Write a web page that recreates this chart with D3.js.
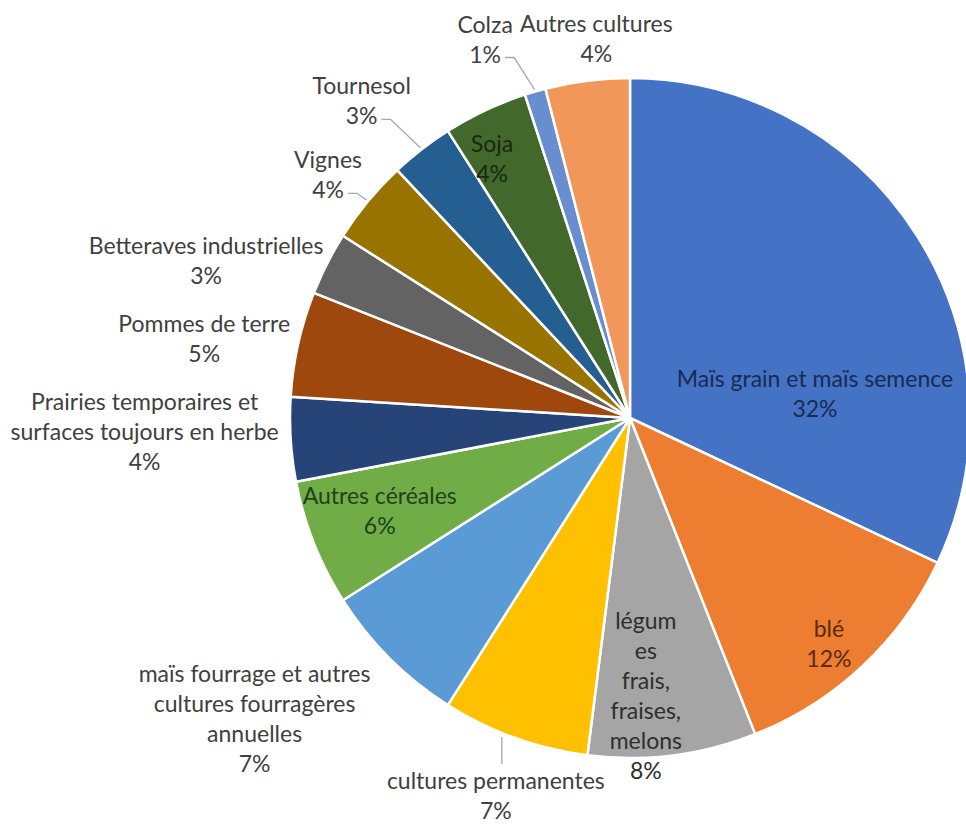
<!DOCTYPE html>
<html>
<head>
<meta charset="utf-8">
<script src="https://cdn.jsdelivr.net/npm/d3@7"></script>
<style>
  html, body { margin: 0; padding: 0; background: #ffffff; }
  svg { display: block; }
  text { font-family: Lato, "Open Sans", sans-serif; }
</style>
</head>
<body>
<svg id="chart" width="966" height="824"></svg>
<script>
// Surface shares by crop (percent), clockwise from 12 o'clock
const categories = [
  "Maïs grain et maïs semence",
  "blé",
  "légumes frais, fraises, melons",
  "cultures permanentes",
  "maïs fourrage et autres cultures fourragères annuelles",
  "Autres céréales",
  "Prairies temporaires et surfaces toujours en herbe",
  "Pommes de terre",
  "Betteraves industrielles",
  "Vignes",
  "Tournesol",
  "Soja",
  "Colza",
  "Autres cultures"
];
const values = [32, 12, 8, 7, 7, 6, 4, 5, 3, 4, 3, 4, 1, 4];
const colors = [
  "#4472C4", "#ED7D31", "#A5A5A5", "#FFC000", "#5B9BD5", "#70AD47", "#264478",
  "#9E480E", "#636363", "#997300", "#255E91", "#43682B", "#698ED0", "#F1975A"
];
// Category names as they wrap inside their label boxes
const labelLines = [
  ["Maïs grain et maïs semence"],
  ["blé"],
  ["légum", "es", "frais,", "fraises,", "melons"],
  ["cultures permanentes"],
  ["maïs fourrage et autres", "cultures fourragères", "annuelles"],
  ["Autres céréales"],
  ["Prairies temporaires et", "surfaces toujours en herbe"],
  ["Pommes de terre"],
  ["Betteraves  industrielles"],
  ["Vignes"],
  ["Tournesol"],
  ["Soja"],
  ["Colza"],
  ["Autres cultures"]
];

// Label layout: radius fraction for the anchor along the slice bisector,
// a nudge from that anchor, text colour and leader-line style
const labelLayout = [
  { k: 0.70, dx: -16,  dy: 103, fill: "#1B2A52", leader: null },
  { k: 0.70, dx: 36,   dy: 52,  fill: "#5A2A0A", leader: null },
  { k: 0.70, dx: -14,  dy: 41,  fill: "#2E2E2E", leader: null },
  { k: 1.00, dx: -19,  dy: 57,  fill: "#404040", leader: "top" },
  { k: 1.00, dx: -135, dy: 60,  fill: "#404040", leader: null },
  { k: 0.70, dx: -29,  dy: 4,   fill: "#22401A", leader: null },
  { k: 1.00, dx: -146, dy: -8,  fill: "#404040", leader: null },
  { k: 1.00, dx: -94,  dy: -6,  fill: "#404040", leader: null },
  { k: 1.00, dx: -121, dy: -4,  fill: "#404040", leader: null },
  { k: 1.00, dx: -40,  dy: -27, fill: "#404040", leader: "side" },
  { k: 1.00, dx: -60,  dy: -49, fill: "#404040", leader: "side" },
  { k: 0.87, dx: -12,  dy: 8,   fill: "#17290E", leader: null },
  { k: 1.00, dx: -50,  dy: -53, fill: "#404040", leader: "side" },
  { k: 1.00, dx: 9,    dy: -43, fill: "#404040", leader: null }
];

const cx = 630, cy = 418, R = 340;
const fontSize = 23, lineH = 30;

const svg = d3.select("#chart");
svg.append("rect").attr("width", 966).attr("height", 824).attr("fill", "#ffffff");

const data = values.map((v, i) => ({ name: categories[i], value: v, i }));

const pie = d3.pie().value(d => d.value).sort(null);
const arcs = pie(data);
const arc = d3.arc().innerRadius(0).outerRadius(R);

const g = svg.append("g").attr("transform", `translate(${cx},${cy})`);

g.selectAll("path.slice")
  .data(arcs)
  .join("path")
  .attr("class", "slice")
  .attr("d", arc)
  .attr("fill", d => colors[d.data.i])
  .attr("stroke", "#ffffff")
  .attr("stroke-width", 2.5)
  .attr("stroke-linejoin", "round");

// Point on the bisector of a slice at radius r (relative to the pie centre)
function polar(a, r) {
  return [r * Math.sin(a), -r * Math.cos(a)];
}

const labels = svg.append("g");
const leaders = svg.append("g");

arcs.forEach(a => {
  const i = a.data.i;
  const lay = labelLayout[i];
  const mid = (a.startAngle + a.endAngle) / 2;
  const [px, py] = polar(mid, R * lay.k);
  const x = cx + px + lay.dx;
  const y = cy + py + lay.dy;
  const lines = labelLines[i].concat([a.data.value + "%"]);
  const n = lines.length;
  const t = labels.append("text")
    .attr("text-anchor", "middle")
    .attr("font-size", fontSize)
    .attr("fill", lay.fill);
  const spans = lines.map((s, j) => t.append("tspan")
    .attr("x", x)
    .attr("y", y + (j - (n - 1) / 2) * lineH)
    .attr("dominant-baseline", "central")
    .text(s));

  if (lay.leader === "side") {
    // horizontal stub from the value line, then on to the slice edge
    const last = spans[n - 1].node();
    const w = last.getComputedTextLength();
    const sx = x + w / 2 + 4;
    const sy = y + ((n - 1) / 2) * lineH + 4;
    const [ex, ey] = polar(mid, R + 2);
    leaders.append("polyline")
      .attr("points", [[sx, sy], [sx + 9, sy], [cx + ex, cy + ey]].map(p => p.join(",")).join(" "))
      .attr("fill", "none")
      .attr("stroke", "#A6A6A6")
      .attr("stroke-width", 1.3);
  } else if (lay.leader === "top") {
    // vertical line from the label up to the pie rim
    const lx = x + 6;
    const top = y - ((n - 1) / 2) * lineH - 16;
    const rimY = cy + Math.sqrt(R * R - (lx - cx) * (lx - cx)) + 4;
    leaders.append("line")
      .attr("x1", lx).attr("y1", top)
      .attr("x2", lx).attr("y2", rimY)
      .attr("stroke", "#A6A6A6")
      .attr("stroke-width", 1.3);
  }
});
</script>
</body>
</html>
